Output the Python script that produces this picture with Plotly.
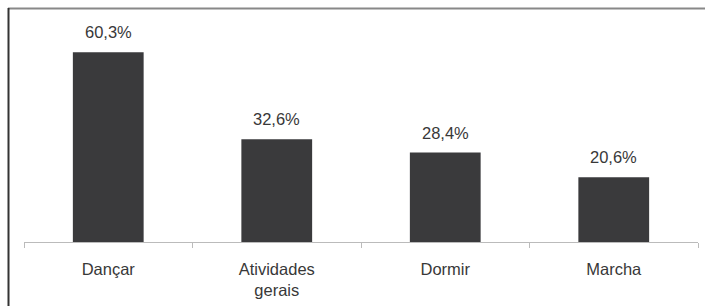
import plotly.graph_objects as go

categories = ["Dançar", "Atividades<br>gerais", "Dormir", "Marcha"]
values = [60.3, 32.6, 28.4, 20.6]
labels = ["60,3%", "32,6%", "28,4%", "20,6%"]

W, H = 705, 306
ml, mr, mt, mb = 24, 7, 21, 64
pw = W - ml - mr
ph = H - mt - mb
FS = 16.5
TXT = "#383838"

fig = go.Figure(go.Bar(
    x=categories, y=values,
    marker=dict(color="#3a3a3c", line=dict(width=0)),
    cliponaxis=False, hoverinfo="skip",
))

for c, v, t in zip(categories, values, labels):
    fig.add_annotation(x=c, y=v, text=t, showarrow=False, yanchor="bottom",
                       yshift=9, font=dict(size=FS, color=TXT))

def px_x(p):
    return (p - ml) / pw

def px_y(p):
    return 1 - (p - mt) / ph

fig.update_layout(
    width=W, height=H,
    margin=dict(l=ml, r=mr, t=mt, b=mb),
    plot_bgcolor="white", paper_bgcolor="white",
    font=dict(family="Liberation Sans, Arial, sans-serif", size=FS, color=TXT),
    bargap=0.58,
    showlegend=False,
    xaxis=dict(
        type="category", range=[-0.5, 3.5],
        showline=True, linecolor="#bbbbbb", linewidth=1,
        ticks="outside", tickson="boundaries", ticklen=5, tickcolor="#bbbbbb",
        ticklabelstandoff=12,
        tickfont=dict(size=FS, color=TXT), showgrid=False,
    ),
    yaxis=dict(range=[0, 70.2], visible=False, showgrid=False),
    shapes=[
        dict(type="line", xref="paper", yref="paper",
             x0=px_x(8), x1=px_x(705), y0=px_y(8.5), y1=px_y(8.5),
             line=dict(color="#888888", width=2)),
        dict(type="line", xref="paper", yref="paper",
             x0=px_x(8.5), x1=px_x(8.5), y0=px_y(8), y1=px_y(306),
             line=dict(color="#333333", width=2)),
    ],
)

fig.write_html("out.html", config={"displayModeBar": False},
               post_script="document.body.style.margin='0';document.body.style.overflow='hidden';")
